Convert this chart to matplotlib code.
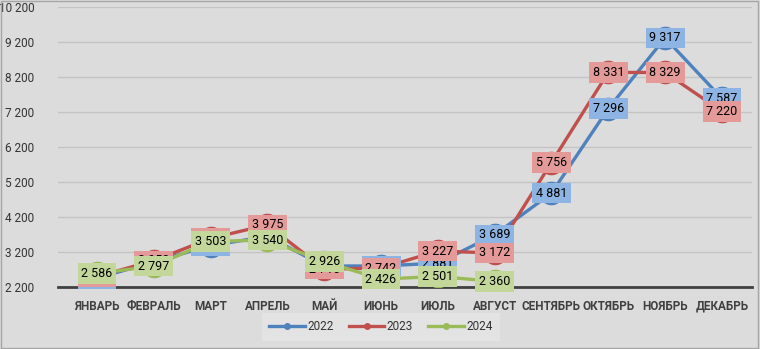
import matplotlib.pyplot as plt
from matplotlib.ticker import FixedLocator

months = ["ЯНВАРЬ", "ФЕВРАЛЬ", "МАРТ", "АПРЕЛЬ", "МАЙ", "ИЮНЬ",
          "ИЮЛЬ", "АВГУСТ", "СЕНТЯБРЬ", "ОКТЯБРЬ", "НОЯБРЬ", "ДЕКАБРЬ"]
y2022 = [2450, 2920, 3380, 3650, 2800, 2800, 2881, 3689, 4881, 7296, 9317, 7587]
y2023 = [2500, 2950, 3590, 3975, 2710, 2742, 3227, 3172, 5756, 8331, 8329, 7220]
y2024 = [2586, 2797, 3503, 3540, 2926, 2426, 2501, 2360]
yticks = [2200, 3200, 4200, 5200, 6200, 7200, 8200, 9200, 10200]

series = [
    ("2022", y2022, "#4f81bd", "#8db4e2"),
    ("2023", y2023, "#c0504d", "#e49a98"),
    ("2024", y2024, "#9bbb59", "#c4d79b"),
]

plt.rcParams['font.family'] = ['Roboto', 'DejaVu Sans']

fig = plt.figure(figsize=(7.6, 3.49), dpi=100, facecolor="#dcdcdc")
ax = fig.add_axes([58 / 760, 62 / 349, 694 / 760, 280 / 349])
ax.set_facecolor("#dcdcdc")

# frame around the whole picture
fig.patches.append(plt.Rectangle((0.001, 0.002), 0.997, 0.995, transform=fig.transFigure,
                                 fill=False, edgecolor="#a6a6a6", linewidth=1))

x = list(range(len(months)))
for i, (name, vals, col, light) in enumerate(series):
    ax.plot(x[:len(vals)], vals, color=col, linewidth=2.4, marker="o",
            markersize=16, zorder=3 + i, label=name, solid_capstyle="round")

for i, (name, vals, col, light) in enumerate(series):
    for xi, v in zip(x, vals):
        txt = f"{v:,}".replace(",", " ")
        ax.text(xi, v, txt, ha="center", va="center", fontsize=9, color="black",
                zorder=10 + i,
                bbox=dict(boxstyle="square,pad=0.3", facecolor=light, edgecolor="none"))

ax.set_ylim(2200, 10200)
ax.set_xlim(-0.686, 11.53)
ax.yaxis.set_major_locator(FixedLocator(yticks))
ax.set_yticklabels([f"{t:,}".replace(",", " ") for t in yticks], fontsize=8.5, color="#333333")
ax.set_xticks(x)
ax.set_xticklabels(months, fontsize=8.5, color="#404040", fontweight="bold")
ax.tick_params(length=0)
ax.tick_params(axis="y", pad=17)
ax.tick_params(axis="x", pad=9)
ax.grid(axis="y", color="#c4c4c4", linewidth=1)
ax.set_axisbelow(True)
for s in ["top", "right", "left"]:
    ax.spines[s].set_visible(False)
ax.spines["bottom"].set_color("#404040")
ax.spines["bottom"].set_linewidth(2)

handles = [plt.Line2D([], [], color=col, linewidth=2.4, marker="o", markersize=4)
           for _, _, col, _ in series]
leg = fig.legend(handles, [s[0] for s in series], loc="center",
                 bbox_to_anchor=(381 / 760, 1 - 327 / 349), ncol=3, fontsize=8.5,
                 frameon=True, facecolor="#e6e6e6", edgecolor="none", fancybox=False,
                 handlelength=3, handletextpad=0.2, columnspacing=1.3, borderpad=0.6)
for t in leg.get_texts():
    t.set_color("#333333")

fig.savefig("out.png", dpi=100, facecolor=fig.get_facecolor())
